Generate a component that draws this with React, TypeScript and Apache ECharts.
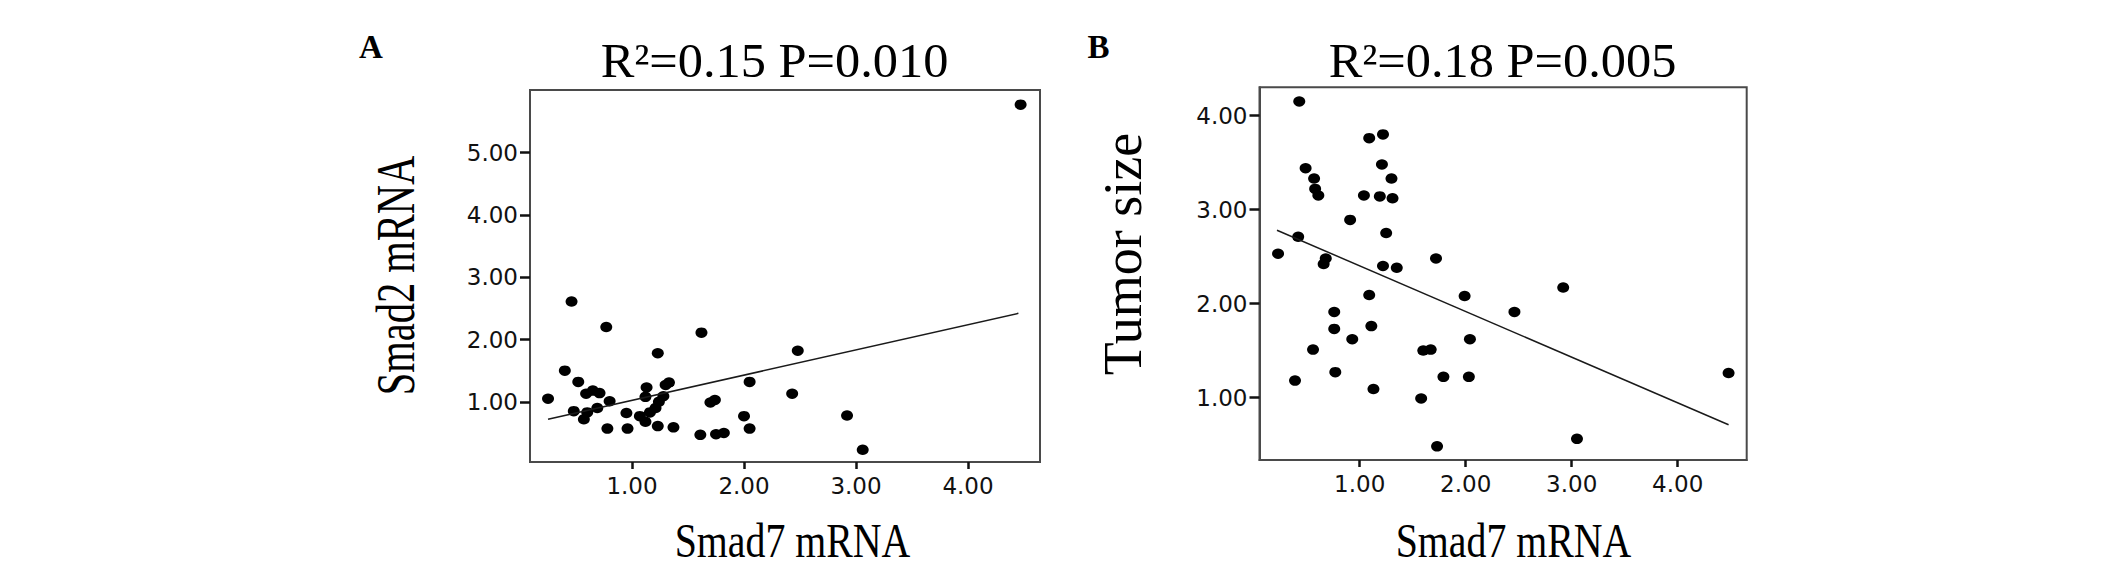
import React, { useEffect, useRef } from 'react';
import * as echarts from 'echarts';

// Panel A: Smad7 mRNA vs Smad2 mRNA
const smad7A = [0.25, 0.40, 0.46, 0.48, 0.52, 0.57, 0.59, 0.60, 0.65, 0.69, 0.71, 0.77, 0.78, 0.80, 0.95, 0.96, 1.07, 1.12, 1.12, 1.13, 1.16, 1.21, 1.23, 1.23, 1.24, 1.28, 1.30, 1.33, 1.37, 1.61, 1.62, 1.70, 1.74, 1.75, 1.82, 2.00, 2.05, 2.05, 2.43, 2.48, 2.92, 3.06, 4.47];
const smad2A = [1.05, 1.50, 2.61, 0.85, 1.32, 0.72, 1.13, 0.83, 1.18, 0.90, 1.14, 2.20, 0.57, 1.01, 0.82, 0.57, 0.77, 0.68, 1.08, 1.23, 0.83, 0.90, 1.78, 0.61, 1.00, 1.09, 1.27, 1.31, 0.59, 0.47, 2.11, 0.99, 1.03, 0.48, 0.50, 0.77, 1.32, 0.57, 1.13, 1.82, 0.78, 0.23, 5.77];
const fitAx = [0.25, 4.45];
const fitAy = [0.72, 2.42];

// Panel B: Smad7 mRNA vs Tumor size
const smad7B = [0.23, 0.39, 0.42, 0.43, 0.49, 0.56, 0.57, 0.58, 0.61, 0.66, 0.68, 0.76, 0.76, 0.77, 0.91, 0.93, 1.04, 1.09, 1.09, 1.11, 1.13, 1.19, 1.21, 1.22, 1.22, 1.25, 1.30, 1.31, 1.35, 1.58, 1.60, 1.67, 1.72, 1.73, 1.79, 1.99, 2.03, 2.04, 2.46, 2.92, 3.05, 4.48];
const tumorB = [2.53, 1.18, 2.71, 4.15, 3.44, 1.51, 3.33, 3.22, 3.15, 2.42, 2.48, 1.91, 1.73, 1.27, 2.89, 1.62, 3.15, 3.76, 2.09, 1.76, 1.09, 3.14, 3.48, 3.80, 2.40, 2.75, 3.33, 3.12, 2.38, 0.99, 1.50, 1.51, 2.48, 0.48, 1.22, 2.08, 1.22, 1.62, 1.91, 2.17, 0.56, 1.26];
const fitBx = [0.22, 4.48];
const fitBy = [2.78, 0.71];

const xTicks = [1, 2, 3, 4];
const yTicksA = [1, 2, 3, 4, 5];
const yTicksB = [1, 2, 3, 4];

const titleA = 'R²=0.15 P=0.010';
const titleB = 'R²=0.18 P=0.005';
const xName = 'Smad7 mRNA';
const yNameA = 'Smad2 mRNA';
const yNameB = 'Tumor size';

const boxColor = '#4a4a4a';
const serif = 'Liberation Serif';

function makeX(gridIndex: number, min: number, max: number) {
  return {
    type: 'value',
    gridIndex,
    min,
    max,
    axisLine: { show: true, lineStyle: { color: boxColor, width: 2 } },
    axisTick: { show: true, customValues: xTicks, length: 7, lineStyle: { color: '#111', width: 2.5 } },
    axisLabel: {
      customValues: xTicks,
      formatter: (v: number) => v.toFixed(2),
      margin: 12,
      fontFamily: 'DejaVu Sans',
      fontSize: 23,
      color: '#111',
    },
    splitLine: { show: false },
  };
}

function makeY(gridIndex: number, min: number, max: number, ticks: number[]) {
  return {
    type: 'value',
    gridIndex,
    min,
    max,
    axisLine: { show: true, lineStyle: { color: boxColor, width: 2 } },
    axisTick: { show: true, customValues: ticks, length: 10, lineStyle: { color: '#111', width: 2.5 } },
    axisLabel: {
      customValues: ticks,
      formatter: (v: number) => v.toFixed(2),
      margin: 12,
      fontFamily: 'DejaVu Sans',
      fontSize: 23,
      color: '#111',
    },
    splitLine: { show: false },
  };
}

function textEl(text: string, x: number, y: number, size: number, opts: any = {}) {
  return {
    type: 'text',
    x,
    y,
    rotation: opts.rotation || 0,
    scaleX: opts.scaleX || 1,
    scaleY: 1,
    style: {
      text,
      fontFamily: serif,
      fontSize: size,
      fontWeight: opts.bold ? 'bold' : 'normal',
      fill: '#000',
      align: 'center',
      verticalAlign: 'middle',
    },
  };
}

export default function App() {
  const ref = useRef<HTMLDivElement>(null);

  useEffect(() => {
    if (!ref.current) return;
    const chart = echarts.init(ref.current, undefined, { renderer: 'svg' });
    const option: any = {
      animation: false,
      backgroundColor: '#ffffff',
      grid: [
        { left: 530, top: 90, width: 510, height: 372, show: true, borderColor: boxColor, borderWidth: 2, backgroundColor: 'transparent' },
        { left: 1259.5, top: 87.3, width: 487.2, height: 372.7, show: true, borderColor: boxColor, borderWidth: 2, backgroundColor: 'transparent' },
      ],
      xAxis: [makeX(0, 0.089, 4.643), makeX(1, 0.055, 4.651)],
      yAxis: [makeY(0, 0.034, 6.005, yTicksA), makeY(1, 0.335, 4.301, yTicksB)],
      series: [
        {
          type: 'scatter',
          xAxisIndex: 0,
          yAxisIndex: 0,
          data: smad7A.map((x, i) => [x, smad2A[i]]),
          symbol: 'circle',
          symbolSize: [12, 10.5],
          itemStyle: { color: '#000', opacity: 1 },
        },
        {
          type: 'line',
          xAxisIndex: 0,
          yAxisIndex: 0,
          data: fitAx.map((x, i) => [x, fitAy[i]]),
          symbol: 'none',
          showSymbol: false,
          lineStyle: { color: '#1a1a1a', width: 1.5 },
          silent: true,
        },
        {
          type: 'scatter',
          xAxisIndex: 1,
          yAxisIndex: 1,
          data: smad7B.map((x, i) => [x, tumorB[i]]),
          symbol: 'circle',
          symbolSize: [12, 10.5],
          itemStyle: { color: '#000', opacity: 1 },
        },
        {
          type: 'line',
          xAxisIndex: 1,
          yAxisIndex: 1,
          data: fitBx.map((x, i) => [x, fitBy[i]]),
          symbol: 'none',
          showSymbol: false,
          lineStyle: { color: '#1a1a1a', width: 1.5 },
          silent: true,
        },
      ],
      graphic: [
        textEl('A', 371, 47, 33, { bold: true }),
        textEl('B', 1098.5, 47, 33, { bold: true }),
        textEl(titleA, 774.5, 61, 48, { scaleX: 1.05 }),
        textEl(titleB, 1502.5, 61, 48, { scaleX: 1.05 }),
        textEl(xName, 792.5, 541, 48, { scaleX: 0.83 }),
        textEl(xName, 1513.5, 541, 48, { scaleX: 0.83 }),
        textEl(yNameA, 395, 275.5, 54, { rotation: Math.PI / 2, scaleX: 0.75 }),
        textEl(yNameB, 1123, 254, 54, { rotation: Math.PI / 2, scaleX: 1.0 }),
      ],
    };
    chart.setOption(option);
    return () => chart.dispose();
  }, []);

  return (
    <div
      ref={ref}
      style={{ position: 'absolute', left: 0, top: 0, width: 2126, height: 571, background: '#fff' }}
    />
  );
}
